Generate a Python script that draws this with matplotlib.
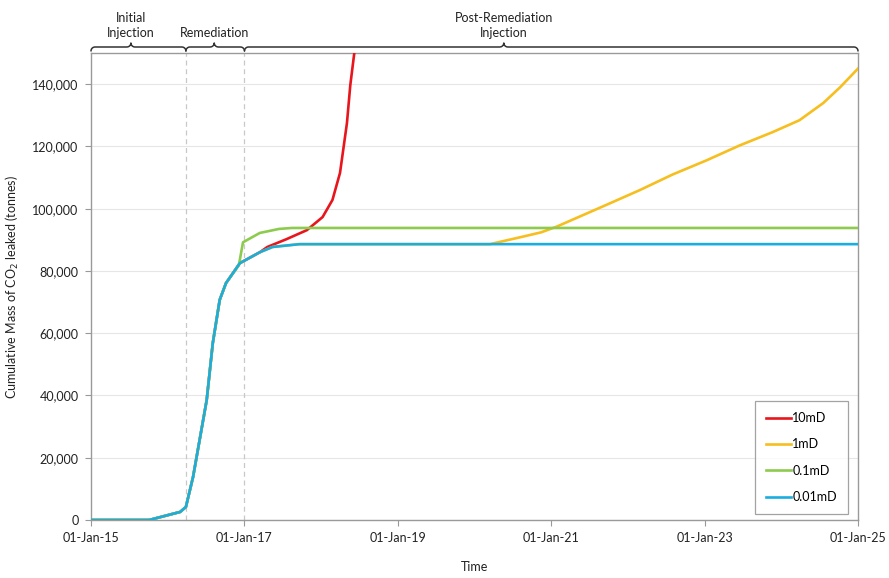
import numpy as np
import matplotlib
matplotlib.use("Agg")
import matplotlib.pyplot as plt
import matplotlib.dates as mdates
import pandas as pd

plt.rcParams['font.family'] = ['Lato', 'DejaVu Sans']

# Cumulative CO2 leakage for four caprock permeabilities
red_dates = ["2015-01-01", "2015-10-05", "2016-03-01", "2016-03-28", "2016-05-01",
             "2016-07-05", "2016-08-03", "2016-09-05", "2016-10-05", "2016-12-10",
             "2017-03-15", "2017-04-20", "2017-07-20", "2017-10-25", "2018-01-08",
             "2018-02-24", "2018-04-01", "2018-05-04", "2018-05-20", "2018-06-08",
             "2018-06-20"]
red_vals = [0, 0, 2600, 4200, 13800, 38500, 56800, 70700, 76100, 82500,
            86000, 87700, 90200, 93100, 97300, 102800, 111500, 127500, 139700, 150000,
            158000]

yellow_dates = ["2015-01-01", "2015-10-05", "2016-03-01", "2016-03-28", "2016-05-01",
                "2016-07-05", "2016-08-03", "2016-09-05", "2016-10-05", "2016-12-10",
                "2017-03-15", "2017-05-15", "2017-09-20", "2020-03-15", "2020-08-18",
                "2020-11-14", "2021-01-26", "2021-09-20", "2022-02-28", "2022-08-03",
                "2023-01-10", "2023-06-17", "2023-11-22", "2024-03-28", "2024-07-19",
                "2024-10-08", "2025-01-01"]
yellow_vals = [0, 0, 2600, 4200, 13800, 38500, 56800, 70700, 76100, 82500,
               86000, 87700, 88600, 88600, 91000, 92400, 94200, 101200, 106000, 111000,
               115500, 120300, 124600, 128400, 133900, 139000, 145000]

green_dates = ["2015-01-01", "2015-10-05", "2016-03-01", "2016-03-28", "2016-05-01",
               "2016-07-05", "2016-08-03", "2016-09-05", "2016-10-05", "2016-12-05",
               "2016-12-25", "2017-03-15", "2017-06-15", "2017-08-15", "2025-01-01"]
green_vals = [0, 0, 2600, 4200, 13800, 38500, 56800, 70700, 76100, 81800,
              89200, 92200, 93500, 93800, 93800]

blue_dates = ["2015-01-01", "2015-10-05", "2016-03-01", "2016-03-28", "2016-05-01",
              "2016-07-05", "2016-08-03", "2016-09-05", "2016-10-05", "2016-12-10",
              "2017-03-15", "2017-05-15", "2017-09-20", "2025-01-01"]
blue_vals = [0, 0, 2600, 4200, 13800, 38500, 56800, 70700, 76100, 82500,
             86000, 87700, 88600, 88600]

series_labels = ["10mD", "1mD", "0.1mD", "0.01mD"]
series_colors = ["#E8161C", "#F6BE1E", "#8DCB4E", "#1AAEE0"]

phase_bounds = ["2015-01-01", "2016-03-28", "2017-01-01", "2025-01-01"]
phase_labels = ["Initial\nInjection", "Remediation", "Post-Remediation\nInjection"]
phase_tips = ["2015-07-10", "2016-08-10", "2020-05-20"]

x_ticks = ["2015-01-01", "2017-01-01", "2019-01-01", "2021-01-01", "2023-01-01", "2025-01-01"]
y_ticks = [0, 20000, 40000, 60000, 80000, 100000, 120000, 140000]

fig = plt.figure(figsize=(8.89, 5.78), dpi=100)
ax = fig.add_axes([91 / 889, 58 / 578, 767 / 889, 467 / 578])

all_series = [(red_dates, red_vals), (yellow_dates, yellow_vals),
              (green_dates, green_vals), (blue_dates, blue_vals)]
for (d, v), lab, col in zip(all_series, series_labels, series_colors):
    ax.plot(pd.to_datetime(d), v, color=col, lw=1.9, label=lab, zorder=3,
            solid_joinstyle='round')

x0, x1 = pd.Timestamp(phase_bounds[0]), pd.Timestamp(phase_bounds[-1])
ax.set_xlim(x0, x1)
ax.set_ylim(0, 150000)

ax.set_xticks(pd.to_datetime(x_ticks))
ax.xaxis.set_major_formatter(mdates.DateFormatter('%d-%b-%y'))
ax.set_yticks(y_ticks)
ax.yaxis.set_major_formatter(matplotlib.ticker.FuncFormatter(lambda v, p: f"{int(v):,}"))
ax.tick_params(axis='both', labelsize=9, color='#999999', length=4, width=0.8,
               labelcolor='#222222', pad=5)
ax.grid(axis='y', color='#e6e6e6', lw=0.8)
ax.set_axisbelow(True)
for s in ax.spines.values():
    s.set_color('#9a9a9a')
    s.set_linewidth(1.0)

# phase boundaries
for b in phase_bounds[1:3]:
    ax.axvline(pd.Timestamp(b), color='#c8c8c8', lw=0.9, ls=(0, (4, 3)), zorder=1)

ax.set_xlabel("Time", fontsize=9, labelpad=12, color='#222222')
ax.set_ylabel("Cumulative Mass of CO$_2$ leaked (tonnes)", fontsize=9, labelpad=8,
              color='#222222')

leg = ax.legend(loc='lower right', bbox_to_anchor=(0.987, 0.012), fontsize=9,
                frameon=True, fancybox=False, handlelength=2.0, handletextpad=0.1,
                labelspacing=1.15, borderpad=0.9, borderaxespad=0)
leg.get_frame().set_edgecolor('#8c8c8c')
leg.get_frame().set_linewidth(0.9)

# curly braces above the axes marking the injection phases
xmin_n, xmax_n = mdates.date2num(x0), mdates.date2num(x1)
ax_w, ax_h = 767.0, 467.0


def to_frac(date):
    return (mdates.date2num(pd.Timestamp(date)) - xmin_n) / (xmax_n - xmin_n)


def brace(xa, xb, xt):
    a, b, t = xa * ax_w, xb * ax_w, xt * ax_w
    r = 4.0
    base = 6.0
    pts = []
    th = np.linspace(np.pi, np.pi / 2, 8)
    pts += [(a + r + r * np.cos(q), base - r + r * np.sin(q)) for q in th]
    th = np.linspace(-np.pi / 2, 0, 6)
    pts += [(t - r + r * np.cos(q), base + r + r * np.sin(q)) for q in th]
    th = np.linspace(np.pi, 3 * np.pi / 2, 6)
    pts += [(t + r + r * np.cos(q), base + r + r * np.sin(q)) for q in th]
    th = np.linspace(np.pi / 2, 0, 8)
    pts += [(b - r + r * np.cos(q), base - r + r * np.sin(q)) for q in th]
    xs = [p[0] / ax_w for p in pts]
    ys = [1 + p[1] / ax_h for p in pts]
    ax.plot(xs, ys, transform=ax.transAxes, color='#333333', lw=1.1, clip_on=False,
            solid_capstyle='round')


for i, lab in enumerate(phase_labels):
    fa, fb, ft = to_frac(phase_bounds[i]), to_frac(phase_bounds[i + 1]), to_frac(phase_tips[i])
    brace(fa, fb, ft)
    ax.text(ft, 1 + 14 / ax_h, lab, transform=ax.transAxes, ha='center', va='bottom',
            fontsize=9, color='#222222', linespacing=1.35)

fig.savefig("out.png", dpi=100, facecolor='white')
